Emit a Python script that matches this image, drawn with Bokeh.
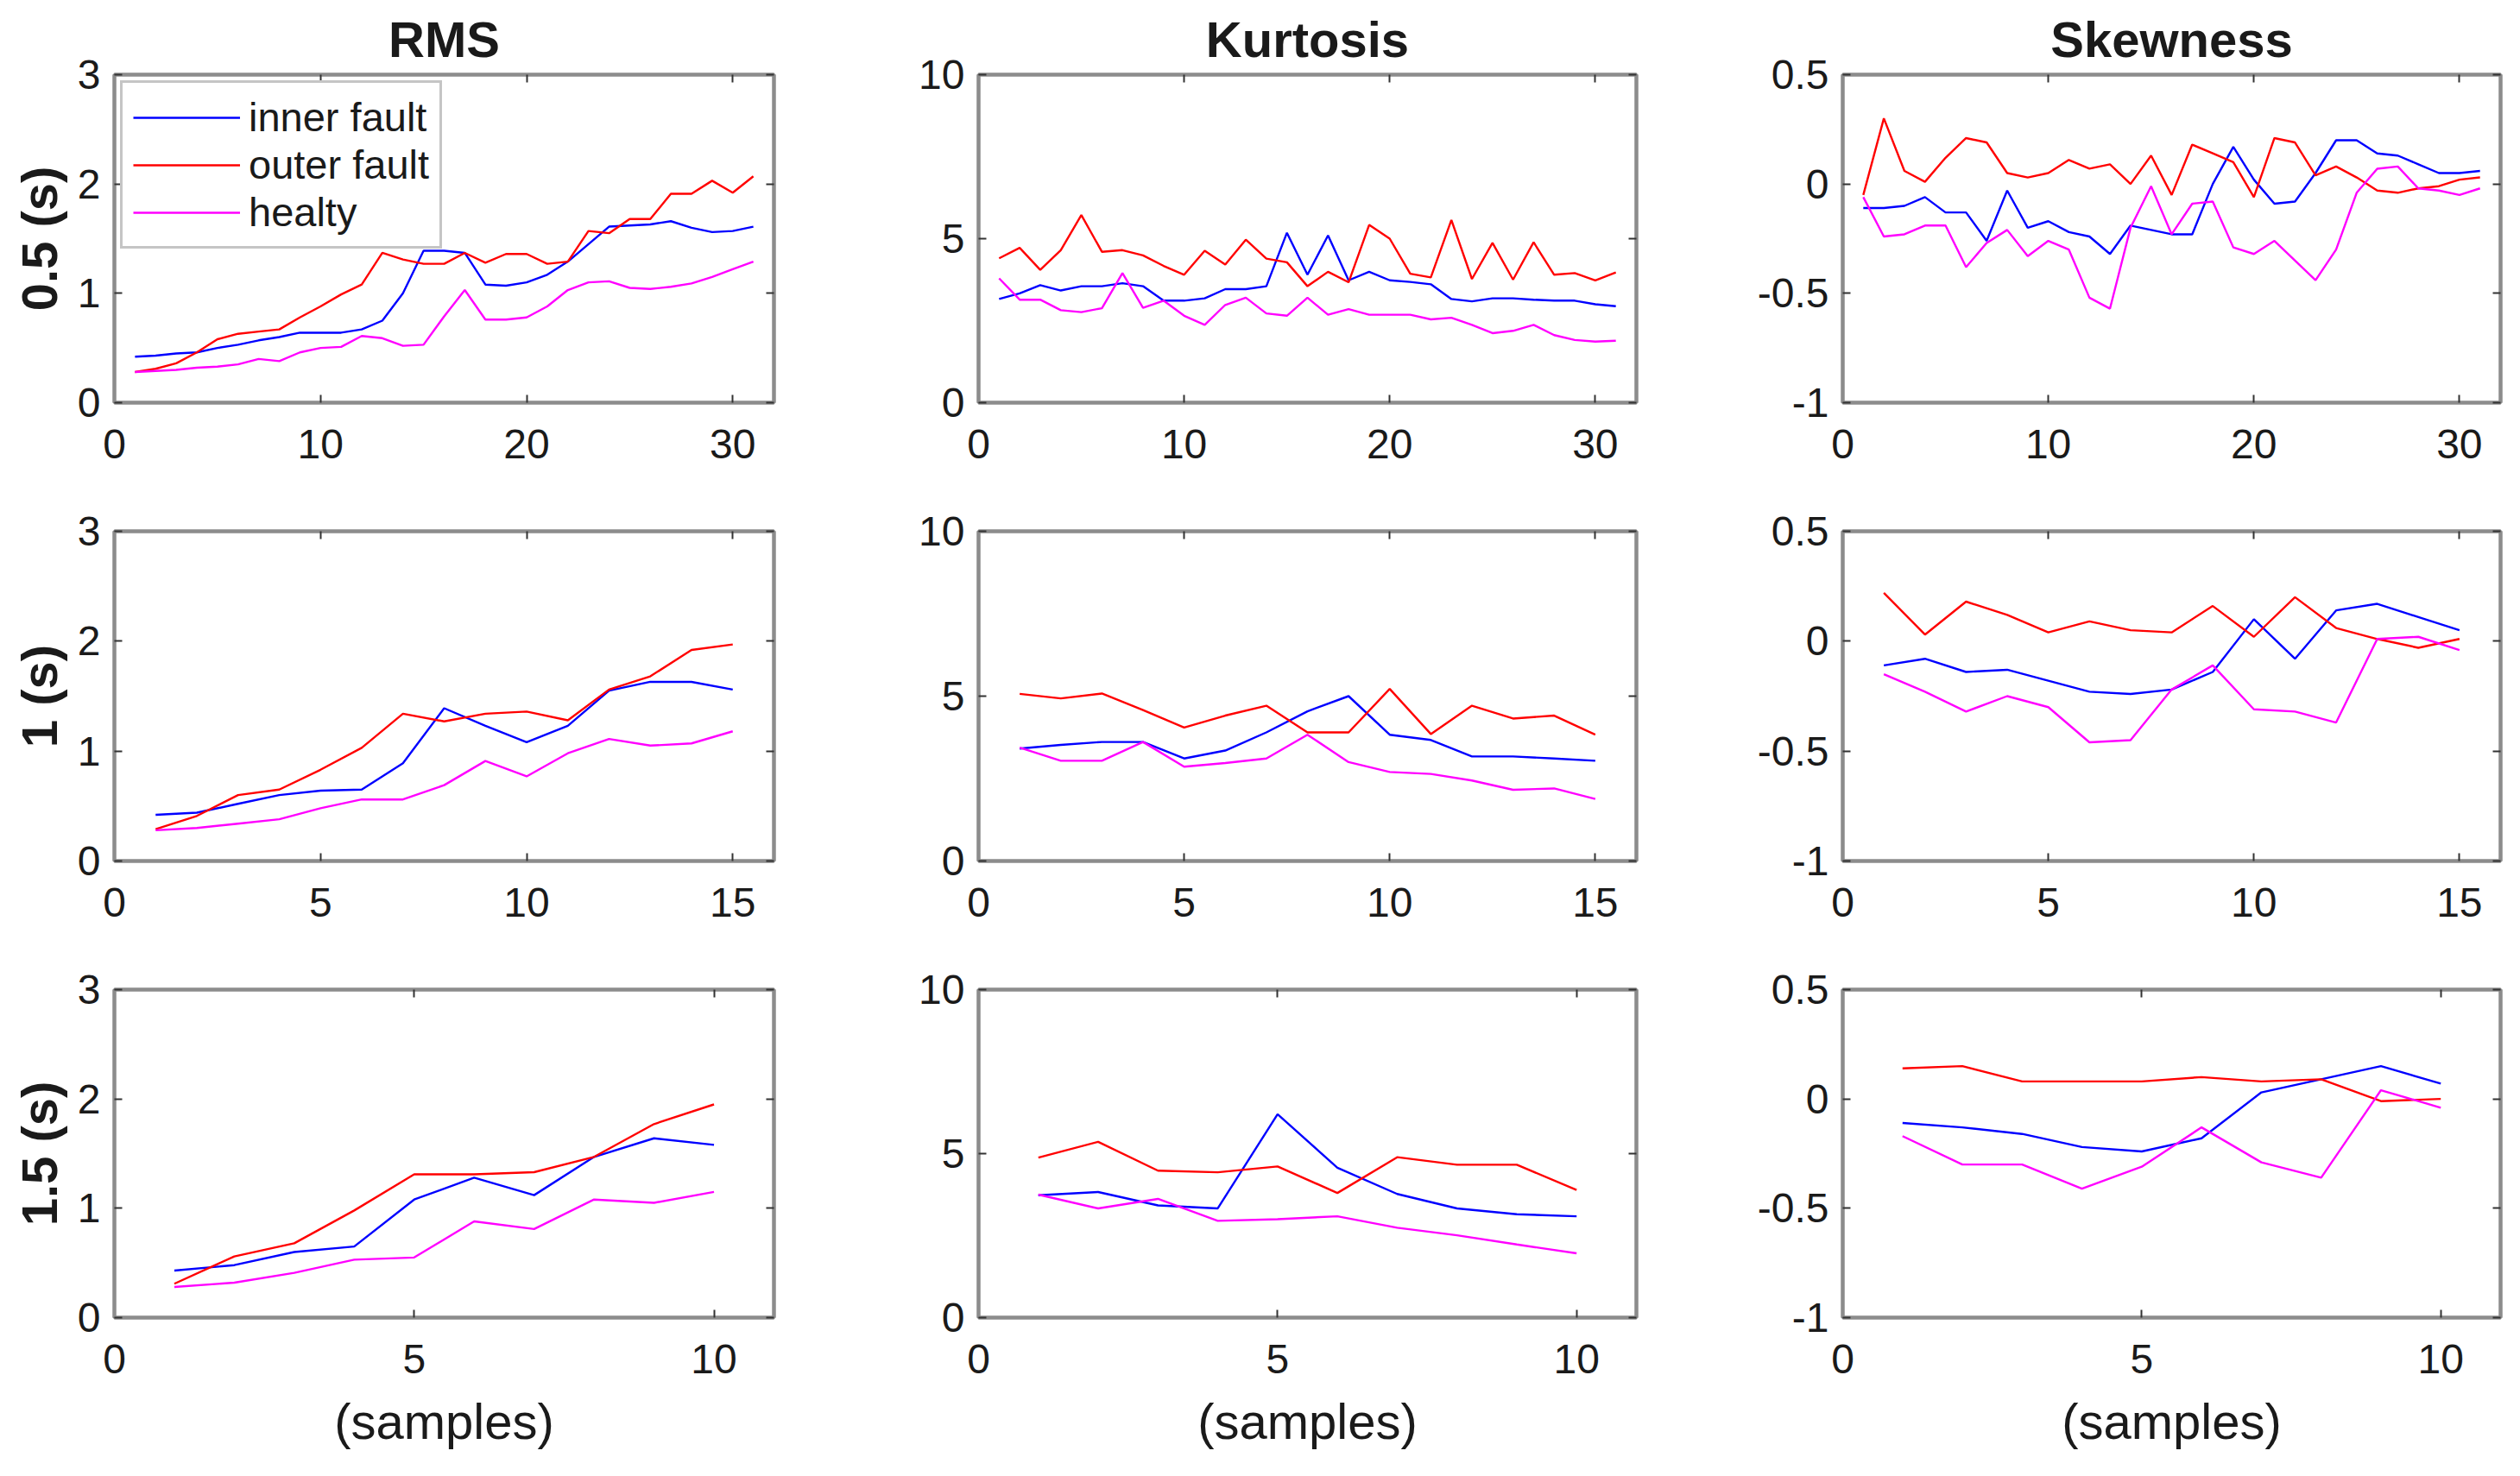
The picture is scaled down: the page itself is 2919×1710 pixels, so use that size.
from bokeh.plotting import figure
from bokeh.models import Range1d, FixedTicker, CustomJSTickFormatter, LinearAxis
from bokeh.layouts import column, row
from bokeh.embed import file_html
from bokeh.resources import INLINE

# ---------------- data ----------------
series_names = ["inner fault", "outer fault", "healty"]
col_titles = ["RMS", "Kurtosis", "Skewness"]
row_labels = ["0.5 (s)", "1 (s)", "1.5 (s)"]
x_label = "(samples)"

x_05 = list(range(1, 32))
x_10 = list(range(1, 16))
x_15 = list(range(1, 11))

rms_05_inner = [0.42, 0.43, 0.45, 0.46, 0.50, 0.53, 0.57, 0.60, 0.64, 0.64, 0.64, 0.67, 0.75, 1.00, 1.39, 1.39,
                1.37, 1.08, 1.07, 1.10, 1.17, 1.29, 1.45, 1.61, 1.62, 1.63, 1.66, 1.60, 1.56, 1.57, 1.61]
rms_05_outer = [0.28, 0.31, 0.36, 0.46, 0.58, 0.63, 0.65, 0.67, 0.78, 0.88, 0.99, 1.08, 1.37, 1.31, 1.27, 1.27,
                1.37, 1.28, 1.36, 1.36, 1.27, 1.29, 1.57, 1.55, 1.68, 1.68, 1.91, 1.91, 2.03, 1.92, 2.07]
rms_05_healty = [0.28, 0.29, 0.30, 0.32, 0.33, 0.35, 0.40, 0.38, 0.46, 0.50, 0.51, 0.61, 0.59, 0.52, 0.53, 0.79,
                 1.03, 0.76, 0.76, 0.78, 0.88, 1.03, 1.10, 1.11, 1.05, 1.04, 1.06, 1.09, 1.15, 1.22, 1.29]

kurt_05_inner = [3.16, 3.33, 3.58, 3.42, 3.55, 3.55, 3.64, 3.55, 3.11, 3.11, 3.18, 3.46, 3.46, 3.55, 5.18, 3.90,
                 5.10, 3.73, 3.99, 3.73, 3.68, 3.61, 3.16, 3.09, 3.18, 3.18, 3.14, 3.11, 3.11, 3.00, 2.94]
kurt_05_outer = [4.40, 4.72, 4.05, 4.65, 5.72, 4.60, 4.65, 4.49, 4.17, 3.90, 4.63, 4.21, 4.97, 4.39, 4.28, 3.55,
                 3.99, 3.67, 5.42, 5.00, 3.93, 3.82, 5.57, 3.77, 4.87, 3.75, 4.89, 3.90, 3.95, 3.73, 3.97]
kurt_05_healty = [3.79, 3.14, 3.14, 2.82, 2.76, 2.88, 3.95, 2.89, 3.11, 2.65, 2.37, 2.98, 3.20, 2.72, 2.65, 3.20,
                  2.68, 2.85, 2.68, 2.68, 2.68, 2.54, 2.59, 2.37, 2.12, 2.19, 2.37, 2.06, 1.91, 1.86, 1.89]

skew_05_inner = [-0.11, -0.11, -0.10, -0.06, -0.13, -0.13, -0.26, -0.03, -0.20, -0.17, -0.22, -0.24, -0.32, -0.19,
                 -0.21, -0.23, -0.23, 0.00, 0.17, 0.02, -0.09, -0.08, 0.05, 0.20, 0.20, 0.14, 0.13, 0.09, 0.05,
                 0.05, 0.06]
skew_05_outer = [-0.05, 0.30, 0.06, 0.01, 0.12, 0.21, 0.19, 0.05, 0.03, 0.05, 0.11, 0.07, 0.09, 0.00, 0.13, -0.05,
                 0.18, 0.14, 0.10, -0.06, 0.21, 0.19, 0.04, 0.08, 0.03, -0.03, -0.04, -0.02, -0.01, 0.02, 0.03]
skew_05_healty = [-0.06, -0.24, -0.23, -0.19, -0.19, -0.38, -0.27, -0.21, -0.33, -0.26, -0.30, -0.52, -0.57, -0.20,
                  -0.01, -0.23, -0.09, -0.08, -0.29, -0.32, -0.26, -0.35, -0.44, -0.30, -0.04, 0.07, 0.08, -0.02,
                  -0.03, -0.05, -0.02]

rms_10_inner = [0.42, 0.44, 0.52, 0.60, 0.64, 0.65, 0.89, 1.39, 1.23, 1.08, 1.23, 1.55, 1.63, 1.63, 1.56]
rms_10_outer = [0.29, 0.41, 0.60, 0.65, 0.83, 1.03, 1.34, 1.27, 1.34, 1.36, 1.28, 1.56, 1.68, 1.92, 1.97]
rms_10_healty = [0.28, 0.30, 0.34, 0.38, 0.48, 0.56, 0.56, 0.69, 0.91, 0.77, 0.98, 1.11, 1.05, 1.07, 1.18]

kurt_10_inner = [3.41, 3.52, 3.61, 3.61, 3.11, 3.35, 3.90, 4.54, 5.00, 3.83, 3.67, 3.17, 3.17, 3.11, 3.04]
kurt_10_outer = [5.07, 4.93, 5.08, 4.58, 4.05, 4.41, 4.71, 3.90, 3.90, 5.22, 3.85, 4.71, 4.32, 4.41, 3.83]
kurt_10_healty = [3.44, 3.04, 3.04, 3.61, 2.86, 2.97, 3.11, 3.83, 3.00, 2.70, 2.64, 2.44, 2.16, 2.20, 1.88]

skew_10_inner = [-0.11, -0.08, -0.14, -0.13, -0.18, -0.23, -0.24, -0.22, -0.14, 0.10, -0.08, 0.14, 0.17, 0.11, 0.05]
skew_10_outer = [0.22, 0.03, 0.18, 0.12, 0.04, 0.09, 0.05, 0.04, 0.16, 0.02, 0.20, 0.06, 0.01, -0.03, 0.01]
skew_10_healty = [-0.15, -0.23, -0.32, -0.25, -0.30, -0.46, -0.45, -0.22, -0.11, -0.31, -0.32, -0.37, 0.01, 0.02,
                  -0.04]

rms_15_inner = [0.43, 0.48, 0.60, 0.65, 1.08, 1.28, 1.12, 1.47, 1.64, 1.58]
rms_15_outer = [0.31, 0.56, 0.68, 0.98, 1.31, 1.31, 1.33, 1.47, 1.77, 1.95]
rms_15_healty = [0.28, 0.32, 0.41, 0.53, 0.55, 0.88, 0.81, 1.08, 1.05, 1.15]

kurt_15_inner = [3.73, 3.83, 3.42, 3.33, 6.20, 4.57, 3.77, 3.33, 3.15, 3.09]
kurt_15_outer = [4.88, 5.36, 4.48, 4.43, 4.61, 3.80, 4.89, 4.66, 4.66, 3.89]
kurt_15_healty = [3.75, 3.33, 3.62, 2.95, 3.00, 3.09, 2.74, 2.51, 2.23, 1.96]

skew_15_inner = [-0.11, -0.13, -0.16, -0.22, -0.24, -0.18, 0.03, 0.09, 0.15, 0.07]
skew_15_outer = [0.14, 0.15, 0.08, 0.08, 0.08, 0.10, 0.08, 0.09, -0.01, 0.00]
skew_15_healty = [-0.17, -0.30, -0.30, -0.41, -0.31, -0.13, -0.29, -0.36, 0.04, -0.04]

x_ticks_05 = [0, 10, 20, 30]
x_ticks_10 = [0, 5, 10, 15]
x_ticks_15 = [0, 5, 10]
y_ticks_rms = [0, 1, 2, 3]
y_ticks_kurt = [0, 5, 10]
y_ticks_skew = [-1, -0.5, 0, 0.5]

# ---------------- style ----------------
COLORS = ["#0000ff", "#ff0000", "#ff00ff"]
FRAME = "#8c8c8c"
TXT = "#1a1a1a"
FONT = "Liberation Sans"
TICK_FS = "48px"
LABEL_FS = "58px"

rows_spec = [
    (x_05, 32, x_ticks_05, [(rms_05_inner, rms_05_outer, rms_05_healty),
                            (kurt_05_inner, kurt_05_outer, kurt_05_healty),
                            (skew_05_inner, skew_05_outer, skew_05_healty)]),
    (x_10, 16, x_ticks_10, [(rms_10_inner, rms_10_outer, rms_10_healty),
                            (kurt_10_inner, kurt_10_outer, kurt_10_healty),
                            (skew_10_inner, skew_10_outer, skew_10_healty)]),
    (x_15, 11, x_ticks_15, [(rms_15_inner, rms_15_outer, rms_15_healty),
                            (kurt_15_inner, kurt_15_outer, kurt_15_healty),
                            (skew_15_inner, skew_15_outer, skew_15_healty)]),
]
col_spec = [((0, 3), y_ticks_rms), ((0, 10), y_ticks_kurt), ((-1, 0.5), y_ticks_skew)]

# layout borders (px)
col_left = [132, 130, 132]
col_right = [107, 107, 7]
col_frame = [764, 762, 762]
row_top = [86, 49, 49]
row_bottom = [100, 100, 174]
row_frame = [380, 382, 380]

fmt_code = "return tick.toString();"


def style_axis(ax, show_labels):
    ax.axis_line_color = FRAME
    ax.axis_line_width = 4
    ax.major_tick_in = 9
    ax.major_tick_out = 0
    ax.major_tick_line_color = "#333333"
    ax.major_tick_line_width = 2
    ax.minor_tick_line_color = None
    ax.major_label_text_font = FONT
    ax.major_label_text_font_size = TICK_FS
    ax.major_label_text_color = TXT
    if show_labels:
        ax.formatter = CustomJSTickFormatter(code=fmt_code)
    else:
        ax.formatter = CustomJSTickFormatter(code="return '';")
        ax.major_label_standoff = 0


grid_rows = []
for ri, (xs, xmax, xt, panels) in enumerate(rows_spec):
    figs = []
    for ci, ((ymin, ymax), yt) in enumerate(col_spec):
        w = col_left[ci] + col_frame[ci] + col_right[ci]
        h = row_top[ri] + row_frame[ri] + row_bottom[ri]
        p = figure(width=w, height=h, x_range=Range1d(0, xmax), y_range=Range1d(ymin, ymax),
                   output_backend="svg", toolbar_location=None,
                   min_border_left=col_left[ci], min_border_right=col_right[ci],
                   min_border_top=row_top[ri], min_border_bottom=row_bottom[ri])
        p.xgrid.visible = False
        p.ygrid.visible = False
        p.outline_line_color = FRAME
        p.outline_line_width = 4
        p.background_fill_color = "white"
        p.border_fill_color = "white"

        xa = p.xaxis[0]
        ya = p.yaxis[0]
        xa.ticker = FixedTicker(ticks=xt)
        ya.ticker = FixedTicker(ticks=yt)
        style_axis(xa, True)
        style_axis(ya, True)
        xa.major_label_standoff = 31
        ya.major_label_standoff = 16

        if ri == 0:
            p.title.text = col_titles[ci]
            p.title.align = "center"
            p.title.text_font = FONT
            p.title.text_font_size = LABEL_FS
            p.title.text_font_style = "bold"
            p.title.text_color = TXT
            p.title.standoff = 17
        if ci == 0:
            ya.axis_label = row_labels[ri]
            ya.axis_label_text_font = FONT
            ya.axis_label_text_font_size = LABEL_FS
            ya.axis_label_text_font_style = "bold"
            ya.axis_label_text_color = TXT
            ya.axis_label_standoff = 9
        if ri == 2:
            xa.axis_label = x_label
            xa.axis_label_text_font = FONT
            xa.axis_label_text_font_size = LABEL_FS
            xa.axis_label_text_font_style = "normal"
            xa.axis_label_text_color = TXT
            xa.axis_label_standoff = 20

        top_ax = LinearAxis(ticker=FixedTicker(ticks=xt))
        style_axis(top_ax, False)
        p.add_layout(top_ax, "above")
        right_ax = LinearAxis(ticker=FixedTicker(ticks=yt))
        style_axis(right_ax, False)
        p.add_layout(right_ax, "right")

        for si, ys in enumerate(panels[ci]):
            if ri == 0 and ci == 0:
                p.line(xs, ys, line_color=COLORS[si], line_width=2.4, legend_label=series_names[si])
            else:
                p.line(xs, ys, line_color=COLORS[si], line_width=2.4)

        if ri == 0 and ci == 0:
            lg = p.legend[0]
            lg.location = "top_left"
            lg.margin = 7
            lg.padding = 12
            lg.spacing = 0
            lg.glyph_width = 124
            lg.glyph_height = 44
            lg.label_height = 44
            lg.label_standoff = 10
            lg.label_text_font = FONT
            lg.label_text_font_size = "47px"
            lg.label_text_color = TXT
            lg.border_line_color = FRAME
            lg.border_line_width = 3
            lg.background_fill_color = "white"
            lg.background_fill_alpha = 1.0
        figs.append(p)
    grid_rows.append(row(*figs, spacing=0))

layout = column(*grid_rows, spacing=0)

with open("out.html", "w") as f:
    f.write(file_html(layout, INLINE))
